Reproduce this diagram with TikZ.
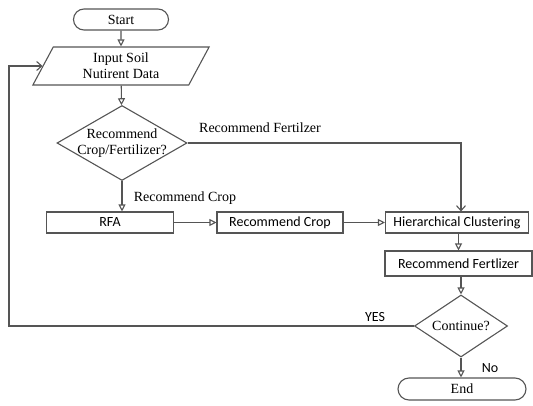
\documentclass[tikz,border=0pt]{standalone}
\usepackage{fontspec}
\setmainfont{Liberation Serif}
\newfontfamily\calibri{Carlito}
\usetikzlibrary{shapes.geometric,shapes.misc,arrows.meta}
\definecolor{linegray}{RGB}{85,85,85}
\newcommand{\bodysize}{\fontsize{14}{16}\selectfont}
\tikzset{
  term/.style={draw=linegray,line width=1.1pt,rounded rectangle,minimum height=21pt,inner sep=0pt},
  io/.style={draw=linegray,line width=1.1pt,trapezium,trapezium left angle=66,trapezium right angle=114,
    trapezium stretches=true,minimum width=177pt,minimum height=38pt,align=center,inner sep=0pt},
  decide/.style={draw=linegray,line width=1.1pt,diamond,align=center,aspect=1.6,inner sep=-3pt},
  proc/.style={draw=linegray,line width=1.1pt,rectangle,minimum height=21pt,inner sep=1pt,font=\calibri\bodysize},
  sanslbl/.style={font=\calibri\bodysize},
  tri/.style={-{Triangle[open,length=7pt,width=7pt]}},
  barb/.style={-{Straight Barb[length=5pt,width=9pt]}}
}
\begin{document}
\begin{tikzpicture}[x=1pt,y=-1pt,font=\bodysize]
      \useasboundingbox (0,0) rectangle (533,406);
      \draw
        (121,19.5) node[term,minimum width=95pt] (start){Start}
        (121,66) node[io] (input){Input Soil\\Nutirent Data}
        (122,143) node[decide,minimum width=130pt,minimum height=75pt] (dec){Recommend\\Crop/Fertilizer?}
        (110,222.5) node[proc,minimum width=127pt] (rfa){RFA}
        (280,222.5) node[proc,minimum width=126pt] (crop){Recommend Crop}
        (457,222.5) node[proc,minimum width=143pt] (hc){Hierarchical Clustering}
        (458.5,263.5) node[proc,minimum width=147pt,minimum height=25pt] (rf){Recommend Fertlizer}
        (461,326) node[decide,minimum width=93pt,minimum height=62pt] (cont){Continue?}
        (462,389) node[term,minimum width=128pt,minimum height=22pt] (end){End};
      % edge labels
      \draw
        (260,128) node (lblfert){Recommend Fertilzer}
        (185,198) node (lblcrop){Recommend Crop}
        (375,317) node[sanslbl] (lblyes){YES}
        (490,368) node[sanslbl] (lblno){No};
      \coordinate (loop) at (9,326);
      \begin{scope}[draw=linegray,line width=1.1pt]
        \draw[tri] (start) to (input);
        \draw[tri] (input) to (dec);
        \draw[tri] (dec.south) to (dec.south |- rfa.north);
        \draw[tri] (rfa) to (crop);
        \draw[tri] (crop) to (hc);
        \draw[barb] (dec.east) -| ([xshift=4pt]hc.north);
        \draw[tri] (hc.south -| rf.north) to (rf.north);
        \draw[tri] (rf.south -| cont.north) to (cont.north);
        \draw[tri] (cont.south) to (cont.south |- end.north);
        \draw[barb] (cont.west) -- (loop) |- (input.west);
      \end{scope}
    \end{tikzpicture}
\end{document}
